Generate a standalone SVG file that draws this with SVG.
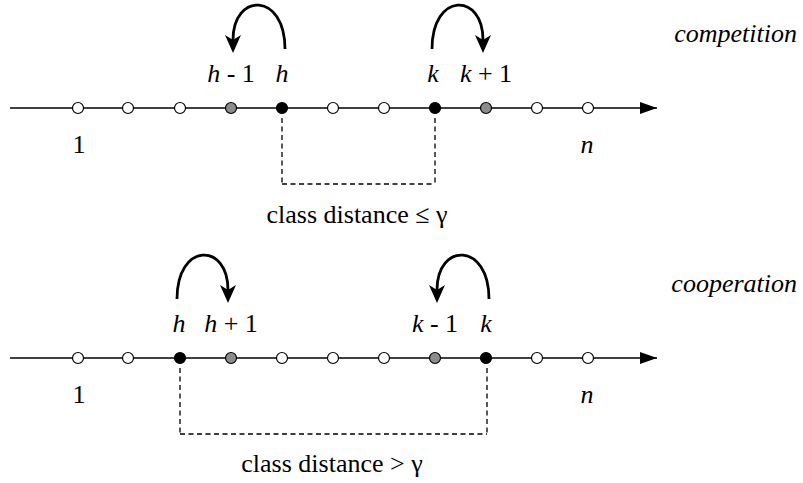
<svg xmlns="http://www.w3.org/2000/svg" width="803" height="483" viewBox="0 0 803 483">
<style>
.lb{font-size:26px;text-anchor:middle}
.cd{font-size:26px;text-anchor:middle}
.side{font-size:26px;font-style:italic;text-anchor:end}
.it{font-style:italic}
.axis{stroke:#000;stroke-width:1.3;fill:none}
.arc{stroke:#000;stroke-width:2.8;fill:none;marker-end:url(#barb)}
.dash{stroke:#000;stroke-width:1.3;fill:none;stroke-dasharray:5 3.5}
.o{fill:#fff;stroke:#000;stroke-width:1.2}
.g{fill:#8c8c8c;stroke:#000;stroke-width:1.2}
.b{fill:#000;stroke:#000;stroke-width:1.2}
</style>
<defs>
<marker id="barb" markerUnits="userSpaceOnUse" markerWidth="22" markerHeight="20" viewBox="0 -10 22 20" refX="5" refY="0" orient="auto">
<path d="M18,0 L0,-8 L5,0 L0,8 Z" fill="#000"/>
</marker>
<marker id="tri" markerUnits="userSpaceOnUse" markerWidth="20" markerHeight="14" viewBox="0 -7 20 14" refX="17" refY="0" orient="auto">
<path d="M17,0 L0,-6 L0,6 Z" fill="#000"/>
</marker>
</defs>
<g id="connectors">
<path class="axis" d="M10,108 H657" marker-end="url(#tri)"/>
<path class="axis" d="M10,358 H657" marker-end="url(#tri)"/>
<path class="arc" d="M285,49 C285,-8 233,-8 233,40"/>
<path class="arc" d="M432,49 C432,-8 483,-8 483,40"/>
<path class="arc" d="M177,299 C177,242 228,242 228,290"/>
<path class="arc" d="M489,299 C489,242 437,242 437,290"/>
<path class="dash" d="M282,118 V186 M435,118 V186 M282,184 H435"/>
<path class="dash" d="M180,368 V436 M487,368 V436 M180,434 H487"/>
</g>
<g id="top-line">
<g id="t1"><circle class="o" cx="78" cy="108" r="5.5"/></g>
<g id="t2"><circle class="o" cx="128" cy="108" r="5.5"/></g>
<g id="t3"><circle class="o" cx="180" cy="108" r="5.5"/></g>
<g id="t-hm1"><circle class="g" cx="231" cy="108" r="5.5"/></g>
<g id="t-h"><circle class="b" cx="282" cy="108" r="5.5"/></g>
<g id="t6"><circle class="o" cx="333" cy="108" r="5.5"/></g>
<g id="t7"><circle class="o" cx="384" cy="108" r="5.5"/></g>
<g id="t-k"><circle class="b" cx="435" cy="108" r="5.5"/></g>
<g id="t-kp1"><circle class="g" cx="486" cy="108" r="5.5"/></g>
<g id="t10"><circle class="o" cx="537" cy="108" r="5.5"/></g>
<g id="t11"><circle class="o" cx="588" cy="108" r="5.5"/></g>
</g>
<g id="bottom-line">
<g id="b1"><circle class="o" cx="78" cy="358" r="5.5"/></g>
<g id="b2"><circle class="o" cx="128" cy="358" r="5.5"/></g>
<g id="b-h"><circle class="b" cx="180" cy="358" r="5.5"/></g>
<g id="b-hp1"><circle class="g" cx="231" cy="358" r="5.5"/></g>
<g id="b5"><circle class="o" cx="282" cy="358" r="5.5"/></g>
<g id="b6"><circle class="o" cx="333" cy="358" r="5.5"/></g>
<g id="b7"><circle class="o" cx="384" cy="358" r="5.5"/></g>
<g id="b-km1"><circle class="g" cx="435" cy="358" r="5.5"/></g>
<g id="b-k"><circle class="b" cx="486" cy="358" r="5.5"/></g>
<g id="b10"><circle class="o" cx="537" cy="358" r="5.5"/></g>
<g id="b11"><circle class="o" cx="588" cy="358" r="5.5"/></g>
</g>
<g id="labels" font-family="'Liberation Serif', 'Times New Roman', serif" fill="#000">
<text class="lb" x="231" y="82"><tspan class="it">h</tspan> - 1</text>
<text class="lb it" x="282" y="82">h</text>
<text class="lb it" x="433" y="82">k</text>
<text class="lb" x="486" y="82"><tspan class="it">k</tspan> + 1</text>
<text class="lb" x="79" y="153">1</text>
<text class="lb it" x="587" y="153">n</text>
<text class="cd" x="357" y="223">class distance ≤ γ</text>
<text class="side" x="797" y="42">competition</text>
<text class="lb it" x="179" y="332">h</text>
<text class="lb" x="231" y="332"><tspan class="it">h</tspan> + 1</text>
<text class="lb" x="435" y="332"><tspan class="it">k</tspan> - 1</text>
<text class="lb it" x="486" y="332">k</text>
<text class="lb" x="79" y="403">1</text>
<text class="lb it" x="587" y="403">n</text>
<text class="cd" x="332" y="472">class distance &gt; γ</text>
<text class="side" x="797" y="292">cooperation</text>
</g>
</svg>
